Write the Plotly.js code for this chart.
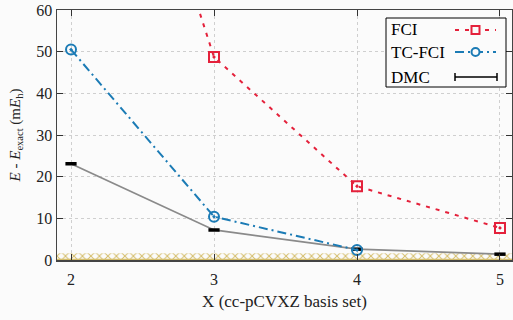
<!DOCTYPE html>
<html><head><meta charset="utf-8">
<script src="https://cdn.plot.ly/plotly-3.0.1.min.js"></script>
<style>html,body{margin:0;padding:0;background:#fbfbfb;}#plot{width:513px;height:320px;}</style>
</head><body><div id="plot"></div>
<script>
// Data
const basisX = [2, 3, 4, 5];
const fciX = [2, 3, 4, 5];
const fciY = [155, 48.7, 17.7, 7.7];
const tcfciX = [2, 3, 4];
const tcfciY = [50.5, 10.4, 2.4];
const dmcX = [2, 3, 4, 5];
const dmcY = [23.1, 7.2, 2.6, 1.4];
const chemAcc = 1.6;
const xRange = [1.902, 5.084];
const yRange = [0, 60];
const yTicks = [0, 10, 20, 30, 40, 50, 60];

const RED = '#e4213b', BLUE = '#1b7bb5', GRAY = '#8a8a8a', TAN = '#d4bd6a';
const FONT = '"Liberation Serif", "DejaVu Serif", serif';

const traces = [
  { x: xRange, y: [chemAcc, chemAcc], mode: 'lines', fill: 'tozeroy',
    line: {width: 0, color: TAN}, fillcolor: 'rgba(251,251,251,0)',
    fillpattern: {shape: 'x', fgcolor: TAN, bgcolor: 'rgba(251,251,251,0)', size: 6, solidity: 0.3, fgopacity: 1},
    hoverinfo: 'skip', showlegend: false },
  { x: xRange, y: [0.12, 0.12], mode: 'lines', line: {width: 1.5, color: TAN}, showlegend: false },
  { x: dmcX, y: dmcY, mode: 'lines+markers', line: {color: GRAY, width: 1.8},
    marker: {symbol: 'line-ew', size: 8, line: {width: 3.5, color: '#000'}, color: '#000'},
    showlegend: false },
  { x: fciX, y: fciY, mode: 'lines+markers', line: {color: RED, width: 2, dash: '4px,6px'},
    marker: {symbol: 'square-open-dot', size: 10, line: {width: 2, color: RED}, color: RED},
    showlegend: false },
  { x: tcfciX, y: tcfciY, mode: 'lines+markers', line: {color: BLUE, width: 2, dash: '9px,4px,2px,4px'},
    marker: {symbol: 'circle-open-dot', size: 10, line: {width: 2, color: BLUE}, color: BLUE},
    showlegend: false }
];

// legend (drawn gnuplot-style: text left, symbol right)
const px = v => (v - 57) / 455, py = v => (260 - v) / 250;
const shapes = [
  {type: 'rect', xref: 'paper', yref: 'paper', x0: px(386), x1: px(506), y0: py(87), y1: py(18),
   line: {color: '#000', width: 1}, fillcolor: '#fbfbfb', layer: 'above'},
  {type: 'line', xref: 'paper', yref: 'paper', x0: px(455), x1: px(496), y0: py(30), y1: py(30),
   line: {color: RED, width: 2, dash: '4px,6px'}, layer: 'above'},
  {type: 'rect', xref: 'paper', yref: 'paper', x0: px(471.5), x1: px(479.5), y0: py(34), y1: py(26),
   line: {color: RED, width: 2}, fillcolor: '#fbfbfb', layer: 'above'},
  {type: 'line', xref: 'paper', yref: 'paper', x0: px(455), x1: px(496), y0: py(52), y1: py(52),
   line: {color: BLUE, width: 2, dash: '9px,4px,2px,4px'}, layer: 'above'},
  {type: 'circle', xref: 'paper', yref: 'paper', x0: px(471.5), x1: px(479.5), y0: py(56), y1: py(48),
   line: {color: BLUE, width: 2}, fillcolor: '#fbfbfb', layer: 'above'},
  {type: 'line', xref: 'paper', yref: 'paper', x0: px(455), x1: px(497), y0: py(77), y1: py(77),
   line: {color: '#000', width: 1.5}, layer: 'above'},
  {type: 'line', xref: 'paper', yref: 'paper', x0: px(455), x1: px(455), y0: py(73), y1: py(81),
   line: {color: '#000', width: 1.5}, layer: 'above'},
  {type: 'line', xref: 'paper', yref: 'paper', x0: px(497), x1: px(497), y0: py(73), y1: py(81),
   line: {color: '#000', width: 1.5}, layer: 'above'}
];
const legendNames = ['FCI', 'TC-FCI', 'DMC'];
const legendY = [30, 52, 77];
const annotations = legendNames.map((n, i) => ({
  text: n, xref: 'paper', yref: 'paper', x: px(389), y: py(legendY[i]),
  xanchor: 'left', yanchor: 'middle', showarrow: false, font: {family: FONT, size: 17, color: '#000'}
}));

const layout = {
  width: 513, height: 320,
  margin: {l: 57, r: 1, t: 10, b: 60},
  paper_bgcolor: '#fbfbfb', plot_bgcolor: '#fbfbfb',
  font: {family: FONT, size: 16, color: '#222'},
  showlegend: false,
  xaxis: {range: xRange, tickvals: basisX, ticks: 'inside', ticklen: 6, tickcolor: '#333',
    mirror: 'ticks', showline: true, linecolor: '#444', linewidth: 1.5,
    showgrid: true, gridcolor: '#cfcfcf', griddash: 'dot', gridwidth: 1, zeroline: false,
    tickfont: {family: FONT, size: 16, color: '#222'}, ticklabelstandoff: 4,
    title: {text: 'X (cc-pCVXZ basis set)', font: {family: FONT, size: 17, color: '#222'}, standoff: 8}},
  yaxis: {range: yRange, tickvals: yTicks, ticks: 'inside', ticklen: 6, tickcolor: '#333',
    mirror: 'ticks', showline: true, linecolor: '#444', linewidth: 1.5,
    showgrid: true, gridcolor: '#cfcfcf', griddash: 'dot', gridwidth: 1, zeroline: false,
    tickfont: {family: FONT, size: 16, color: '#222'},
    title: {text: '<i>E</i> - <i>E</i><sub>exact</sub> (m<i>E</i><sub>h</sub>)', font: {family: FONT, size: 15, color: '#222'}, standoff: 12}},
  shapes: shapes,
  annotations: annotations
};
Plotly.newPlot('plot', traces, layout, {displayModeBar: false, staticPlot: true});
</script></body></html>
